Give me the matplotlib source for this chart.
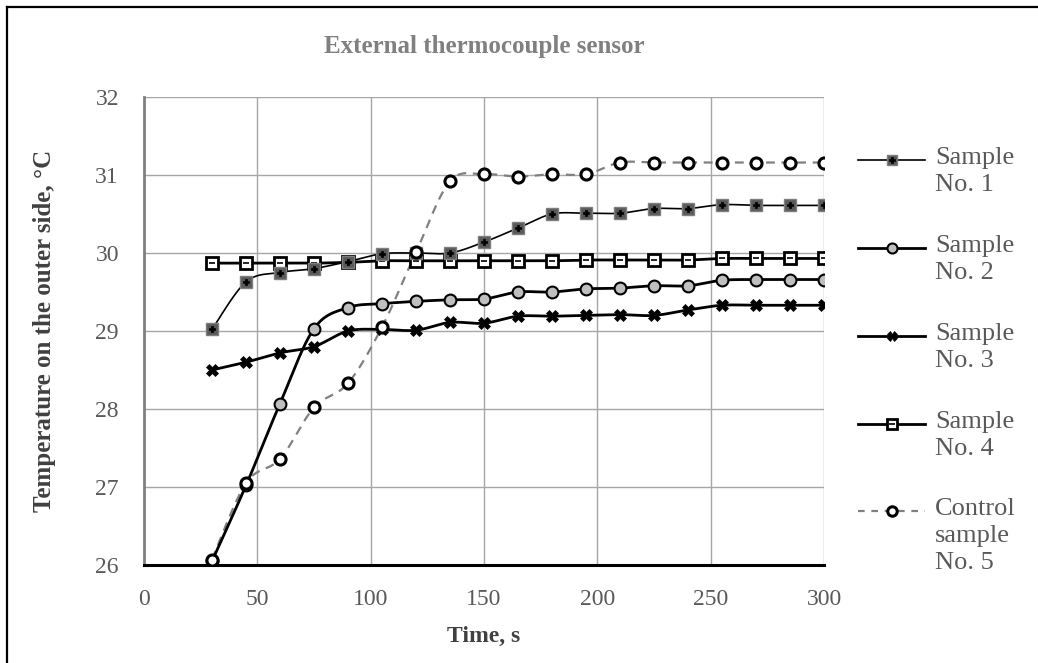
import numpy as np
import matplotlib
matplotlib.use("Agg")
import matplotlib.pyplot as plt

plt.rcParams['font.family'] = ['Liberation Serif', 'DejaVu Serif']

time_s = [30, 45, 60, 75, 90, 105, 120, 135, 150, 165, 180, 195, 210, 225, 240, 255, 270, 285, 300]

sample1 = [29.02, 29.63, 29.75, 29.80, 29.89, 29.99, 30.00, 30.00, 30.14, 30.32, 30.50, 30.51,
           30.51, 30.57, 30.57, 30.62, 30.61, 30.61, 30.61]
sample2 = [26.05, 27.02, 28.07, 29.03, 29.30, 29.35, 29.38, 29.40, 29.41, 29.50, 29.50, 29.54,
           29.55, 29.58, 29.58, 29.65, 29.66, 29.66, 29.66]
sample3 = [28.50, 28.60, 28.72, 28.80, 29.00, 29.02, 29.01, 29.11, 29.10, 29.19, 29.19, 29.20,
           29.21, 29.20, 29.27, 29.33, 29.33, 29.33, 29.33]
sample4 = [29.87, 29.87, 29.87, 29.87, 29.88, 29.90, 29.90, 29.90, 29.90, 29.90, 29.90, 29.91,
           29.91, 29.91, 29.91, 29.93, 29.93, 29.93, 29.93]
control5 = [26.07, 27.05, 27.36, 28.02, 28.33, 29.05, 30.01, 30.92, 31.01, 30.98, 31.01, 31.01,
            31.16, 31.16, 31.16, 31.16, 31.16, 31.16, 31.16]

legend_labels = ["Sample\nNo. 1", "Sample\nNo. 2", "Sample\nNo. 3", "Sample\nNo. 4",
                 "Control\nsample\nNo. 5"]


def smooth(x, y, n=20, tension=0.5):
    """Cardinal-spline path through the points, like spreadsheet smoothed lines."""
    x = np.asarray(x, float)
    y = np.asarray(y, float)
    px = np.concatenate([[x[0]], x, [x[-1]]])
    py = np.concatenate([[y[0]], y, [y[-1]]])
    xs, ys = [], []
    t = np.linspace(0, 1, n, endpoint=False)
    h00 = 2 * t**3 - 3 * t**2 + 1
    h10 = t**3 - 2 * t**2 + t
    h01 = -2 * t**3 + 3 * t**2
    h11 = t**3 - t**2
    for i in range(1, len(px) - 2):
        p0, p1, p2, p3 = (np.array([px[j], py[j]]) for j in (i - 1, i, i + 1, i + 2))
        m1 = tension * (p2 - p0)
        m2 = tension * (p3 - p1)
        pts = (np.outer(h00, p1) + np.outer(h10, m1) + np.outer(h01, p2) + np.outer(h11, m2))
        xs.append(pts[:, 0])
        ys.append(pts[:, 1])
    xs.append([x[-1]])
    ys.append([y[-1]])
    return np.concatenate(xs), np.concatenate(ys)


W, H = 1038, 663
fig = plt.figure(figsize=(W / 100, H / 100), dpi=100)
ax = fig.add_axes([144 / W, 1 - 565 / H, (824 - 144) / W, (565 - 97) / H])

# overlay in pixel units for frame and legend
ov = fig.add_axes([0, 0, 1, 1], zorder=10)
ov.set_xlim(0, W)
ov.set_ylim(H, 0)
ov.axis('off')
ov.patch.set_alpha(0)
ov.plot([7, 7], [H + 5, 7], color='black', lw=1.6, clip_on=False)
ov.plot([7, W + 5], [7, 7], color='black', lw=1.6, clip_on=False)

grid_c = '#a6a6a6'
ax.set_xlim(0, 300)
ax.set_ylim(26, 32)
ax.set_xticks(np.arange(0, 301, 50))
ax.set_yticks(np.arange(26, 32.1, 1))
ax.grid(True, color=grid_c, lw=1.0)
ax.set_axisbelow(True)
for s in ('top', 'right'):
    ax.spines[s].set_visible(False)
ax.spines['left'].set_color('#808080')
ax.spines['left'].set_linewidth(2.0)
ax.spines['bottom'].set_color('black')
ax.spines['bottom'].set_linewidth(2.2)
ax.tick_params(length=0, labelsize=17, colors='#595959')
ax.tick_params(axis='x', pad=17)
ax.tick_params(axis='y', pad=18)

styles = {
    'control': dict(line=dict(color='#808080', lw=1.6, ls=(0, (4, 3))),
                    mk=[dict(marker='o', ms=8, mfc='white', mec='black', mew=2.2)]),
    's4': dict(line=dict(color='black', lw=2.0),
               mk=[dict(marker='s', ms=8, mfc='white', mec='black', mew=2.0),
                   dict(marker='_', ms=5, mec='black', mew=1.2)]),
    's1': dict(line=dict(color='black', lw=1.2),
               mk=[dict(marker='s', ms=9, mfc='#595959', mec='#7f7f7f', mew=1.0),
                   dict(marker='P', ms=5, mfc='black', mec='black', mew=0.5)]),
    's2': dict(line=dict(color='black', lw=2.0),
               mk=[dict(marker='o', ms=8.5, mfc='#bfbfbf', mec='black', mew=1.5)]),
    's3': dict(line=dict(color='black', lw=2.0),
               mk=[dict(marker='X', ms=8, mfc='black', mec='black', mew=0.5)]),
}
series = [('control', control5, 6), ('s4', sample4, 4), ('s1', sample1, 5),
          ('s2', sample2, 5), ('s3', sample3, 5)]
for key, vals, z in series:
    st = styles[key]
    sx, sy = smooth(time_s, vals)
    ax.plot(sx, sy, zorder=2 if key == 'control' else 3, **st['line'])
    for m in st['mk']:
        ax.plot(time_s, vals, ls='none', zorder=z, **m)

ax.set_title("External thermocouple sensor", fontsize=18, color='#808080', fontweight='bold', pad=32)
ax.set_xlabel("Time, s", fontsize=17, color='#404040', fontweight='bold', labelpad=12)
ax.set_ylabel("Temperature on the outer side, °C", fontsize=18, color='#404040',
              fontweight='bold', labelpad=28)

# legend, drawn by hand so each handle sits on the first text line
leg_keys = ['s1', 's2', 's3', 's4', 'control']
leg_y = [160, 248, 336, 424, 511]
for key, lab, y in zip(leg_keys, legend_labels, leg_y):
    st = styles[key]
    line_kw = dict(st['line'])
    if key == 'control':
        line_kw['ls'] = (0, (3, 3))
    ov.plot([858, 925], [y, y], clip_on=False, **line_kw)
    for m in st['mk']:
        m2 = dict(m)
        m2['ms'] = m['ms'] * 0.85
        ov.plot([891.5], [y], ls='none', clip_on=False, **m2)
    ov.text(935, y - 13, lab, fontsize=19, color='#595959', va='top', ha='left',
            linespacing=1.3)

fig.savefig("out.png", dpi=100)
